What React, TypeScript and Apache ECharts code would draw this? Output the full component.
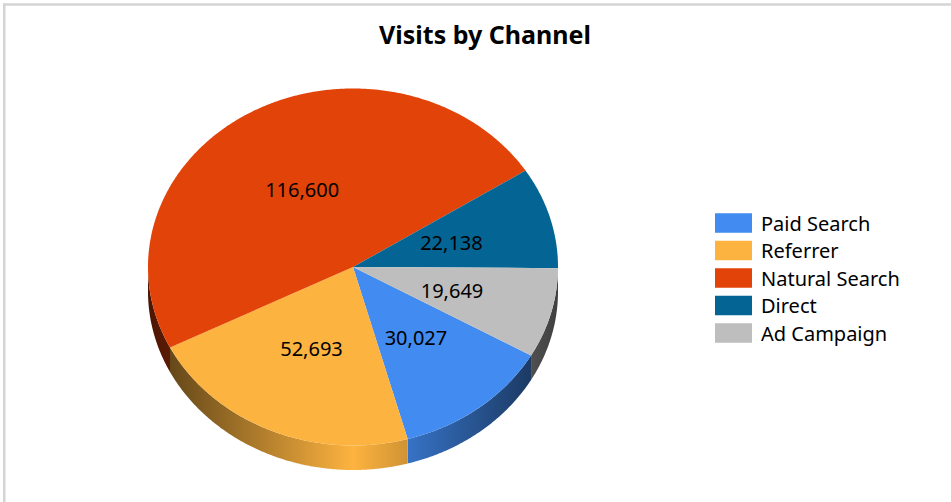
import React, { useEffect, useRef } from "react";
import * as echarts from "echarts";

const channels = ["Paid Search", "Referrer", "Natural Search", "Direct", "Ad Campaign"];
const visits = [30027, 52693, 116600, 22138, 19649];
const colors = ["#428bf0", "#fdb33f", "#e24309", "#046595", "#bebebe"];

const FONT = "Noto Sans";
const CX = 353, CY = 267, RX = 205, RY = 178.5, DEPTH = 24.5, START = 29.7;
const EDGE = 0.33;

const total = visits.reduce((a, b) => a + b, 0);
const point = (deg: number, dy = 0): number[] => {
  const r = (deg * Math.PI) / 180;
  return [CX + RX * Math.cos(r), CY + dy + RY * Math.sin(r)];
};
const arcAngles = (from: number, to: number): number[] => {
  const out: number[] = [];
  const n = Math.max(2, Math.ceil((to - from) * 2));
  for (let i = 0; i <= n; i++) out.push(from + ((to - from) * i) / n);
  return out;
};
const shade = (hex: string, f: number) => {
  const n = parseInt(hex.slice(1), 16);
  const c = [(n >> 16) & 255, (n >> 8) & 255, n & 255].map((v) => Math.round(v * f));
  return `rgb(${c[0]},${c[1]},${c[2]})`;
};
const sideFill = (hex: string) =>
  new echarts.graphic.LinearGradient(
    CX - RX, 0, CX + RX, 0,
    [
      { offset: 0, color: shade(hex, EDGE) },
      { offset: 0.5, color: hex },
      { offset: 1, color: shade(hex, EDGE) },
    ],
    true
  );

// portion of [a, b] (degrees, clockwise from 3 o'clock) lying on the front half of the pie
const frontRanges = (a: number, b: number): number[][] => {
  const out: number[][] = [];
  for (const k of [0, 360]) {
    const s = Math.max(a, k), e = Math.min(b, k + 180);
    if (e > s) out.push([s, e]);
  }
  return out;
};

const makeSeries = () => {
  let cursor = START;
  return channels.map((name, i) => {
    const from = cursor;
    const to = from + (visits[i] / total) * 360;
    cursor = to;
    return {
      type: "custom",
      name,
      coordinateSystem: "none",
      itemStyle: { color: colors[i] },
      silent: true,
      data: [[visits[i]]],
      renderItem: (_p: any, api: any) => {
        const value = api.value(0);
        const children: any[] = [];
        frontRanges(from, to).forEach(([s, e]) => {
          const a = arcAngles(s, e);
          const pts = [...a.map((d) => point(d)), ...a.slice().reverse().map((d) => point(d, DEPTH))];
          children.push({ type: "polygon", z2: 1, shape: { points: pts }, style: { fill: sideFill(colors[i]) } });
        });
        const pts = [[CX, CY], ...arcAngles(from, to).map((d) => point(d))];
        children.push({ type: "polygon", z2: 2, shape: { points: pts }, style: { fill: colors[i] } });
        const mid = (from + to) / 2;
        const r = (mid * Math.PI) / 180;
        children.push({
          type: "text",
          z2: 3,
          style: {
            x: CX + 0.5 * RX * Math.cos(r),
            y: CY + 0.5 * RY * Math.sin(r),
            text: Number(value).toLocaleString("en-US"),
            fill: "#000",
            fontFamily: FONT,
            fontSize: 20,
            align: "center",
            verticalAlign: "middle",
          },
        });
        return { type: "group", children };
      },
    };
  });
};

export default function App() {
  const ref = useRef<HTMLDivElement>(null);
  useEffect(() => {
    document.body.style.margin = "0";
    const chart = echarts.init(ref.current!, null, { renderer: "svg" });
    chart.setOption({
      animation: false,
      backgroundColor: "#fff",
      title: {
        text: "Visits by Channel",
        left: 485,
        top: 21,
        padding: 0,
        textAlign: "center",
        textStyle: { fontFamily: FONT, fontSize: 25, fontWeight: "bold", color: "#000" },
      },
      legend: {
        orient: "vertical",
        left: 715,
        top: 213,
        padding: 0,
        icon: "rect",
        itemWidth: 37,
        itemHeight: 19.5,
        itemGap: 7.5,
        data: channels,
        selectedMode: false,
        textStyle: { fontFamily: FONT, fontSize: 20, lineHeight: 19.5, color: "#000", padding: [0, 0, 0, 4] },
      },
      graphic: [
        { type: "rect", shape: { x: 3, y: 3.2, width: 948, height: 2.5 }, style: { fill: "#d4d4d4" } },
        { type: "rect", shape: { x: 3, y: 3.2, width: 2.5, height: 499 }, style: { fill: "#d4d4d4" } },
      ],
      series: makeSeries(),
    });
    return () => chart.dispose();
  }, []);
  return <div ref={ref} style={{ width: 951, height: 502 }} />;
}
